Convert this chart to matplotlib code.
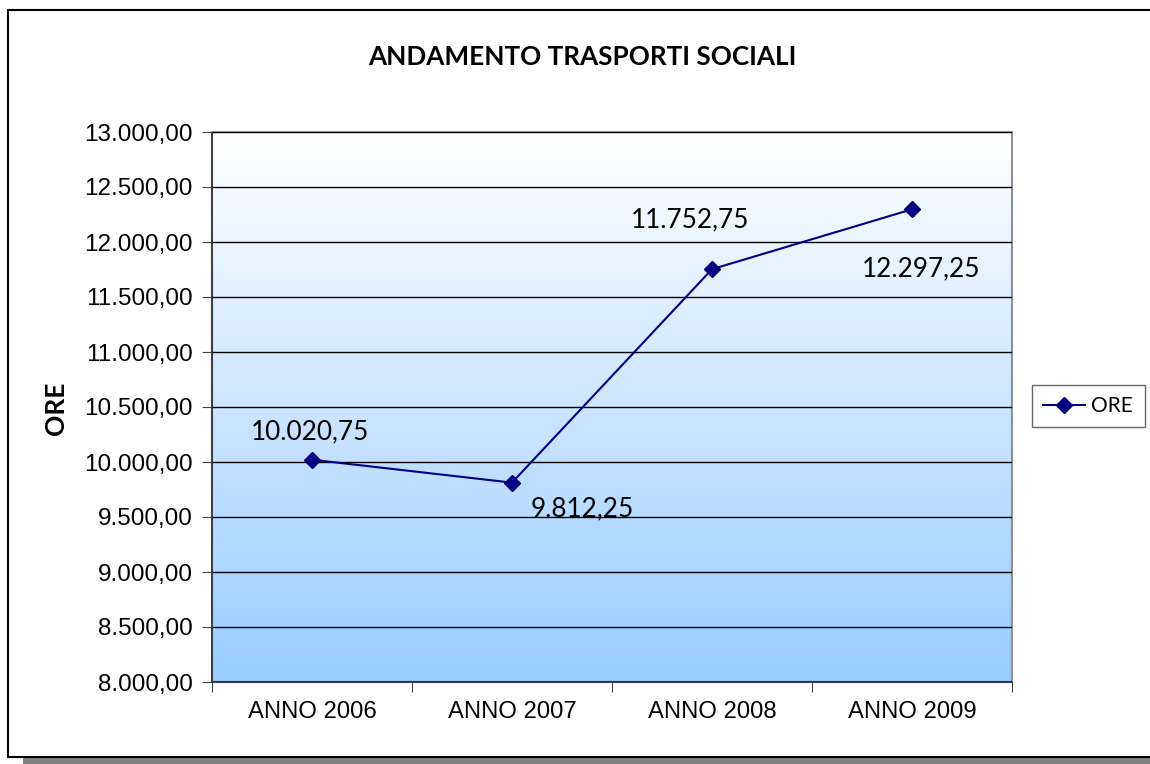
import matplotlib
matplotlib.use("Agg")
import matplotlib.pyplot as plt
import numpy as np
from matplotlib.patches import Rectangle
from matplotlib.colors import LinearSegmentedColormap
from matplotlib.lines import Line2D

categories = ["ANNO 2006", "ANNO 2007", "ANNO 2008", "ANNO 2009"]
ore = [10020.75, 9812.25, 11752.75, 12297.25]
value_labels = ["10.020,75", "9.812,25", "11.752,75", "12.297,25"]
y_ticks = [8000, 8500, 9000, 9500, 10000, 10500, 11000, 11500, 12000, 12500, 13000]
y_tick_labels = ["8.000,00", "8.500,00", "9.000,00", "9.500,00", "10.000,00", "10.500,00",
                 "11.000,00", "11.500,00", "12.000,00", "12.500,00", "13.000,00"]
title = "ANDAMENTO TRASPORTI SOCIALI"
series_name = "ORE"

W, H = 1150, 764
fig = plt.figure(figsize=(W / 100, H / 100), dpi=100)
fig.patch.set_facecolor("white")

def fx(px):
    return px / W

def fy(py):
    return 1 - py / H

# outer frame and shadow
fig.add_artist(Rectangle((fx(23), 0), fx(1150 - 23), 9 / H,
                         transform=fig.transFigure, facecolor="#808080", edgecolor="none", zorder=0))
fig.add_artist(Rectangle((fx(8), fy(757)), fx(1160 - 8), (757 - 10) / H,
                         transform=fig.transFigure, facecolor="white", edgecolor="black",
                         linewidth=1.5, zorder=1))

ax = fig.add_axes([fx(212), fy(682), fx(800), (682 - 132) / H])
ax.set_zorder(2)
ax.patch.set_alpha(0)

x = np.arange(len(categories))
ax.set_xlim(-0.5, len(categories) - 0.5)
ax.set_ylim(8000, 13000)

cmap = LinearSegmentedColormap.from_list("g", ["#FFFFFF", "#99CCFF"])
grad = np.linspace(0, 1, 256).reshape(-1, 1)
ax.imshow(grad, extent=[0, 1, 0, 1], transform=ax.transAxes, aspect="auto",
          cmap=cmap, origin="upper", zorder=0)

ax.set_yticks(y_ticks)
ax.set_yticklabels(y_tick_labels, family=["Liberation Sans", "DejaVu Sans"], fontsize=17.5)
ax.yaxis.grid(True, color="black", linewidth=1.0, zorder=1)
ax.set_axisbelow(False)

ax.set_xticks(np.arange(len(categories) + 1) - 0.5, minor=False)
ax.set_xticklabels([])
ax.set_xticks(x, minor=True)
ax.set_xticklabels(categories, minor=True, family=["Liberation Sans", "DejaVu Sans"], fontsize=17.2)
ax.tick_params(axis="x", which="minor", length=0, pad=14)
ax.tick_params(axis="x", which="major", length=7, direction="out", color="#404040")
ax.tick_params(axis="y", length=7, direction="out", color="#404040", pad=7)

for s in ["left", "bottom"]:
    ax.spines[s].set_color("#404040")
    ax.spines[s].set_linewidth(1.5)
for s in ["right", "top"]:
    ax.spines[s].set_color("#909090")
    ax.spines[s].set_linewidth(1.5)

ax.plot(x, ore, color="#000080", linewidth=1.5, marker="D", markersize=8,
        markerfacecolor="#000080", markeredgecolor="#000080", zorder=5, clip_on=False)

offsets = [(-2, 28), (70, -26), (-22, 49), (9, -60)]
for xi, yi, lab, off in zip(x, ore, value_labels, offsets):
    ax.annotate(lab, (xi, yi), xytext=off, textcoords="offset pixels",
                ha="center", va="center", fontsize=18.8,
                family=["Lato", "DejaVu Sans"], color="black", zorder=6)

fig.text(fx(582), fy(57), title, ha="center", va="center", fontsize=18.8,
         fontweight="bold", family=["Lato", "DejaVu Sans"])
fig.text(fx(56), fy(408), series_name, ha="center", va="center", rotation=90,
         fontsize=19, fontweight="bold", family=["Lato", "DejaVu Sans"])

handle = Line2D([], [], color="#000080", linewidth=1.5, marker="D", markersize=8,
                markerfacecolor="#000080")
leg = fig.legend([handle], [series_name], loc="center left",
                 bbox_to_anchor=(fx(1032), fy(406)), frameon=True, fancybox=False,
                 prop={"family": ["Lato", "DejaVu Sans"], "size": 15},
                 handlelength=2.0, handletextpad=0.3, borderpad=0.55, borderaxespad=0)
leg.get_frame().set_edgecolor("#404040")
leg.get_frame().set_linewidth(1.0)

fig.savefig("out.png", dpi=100)
